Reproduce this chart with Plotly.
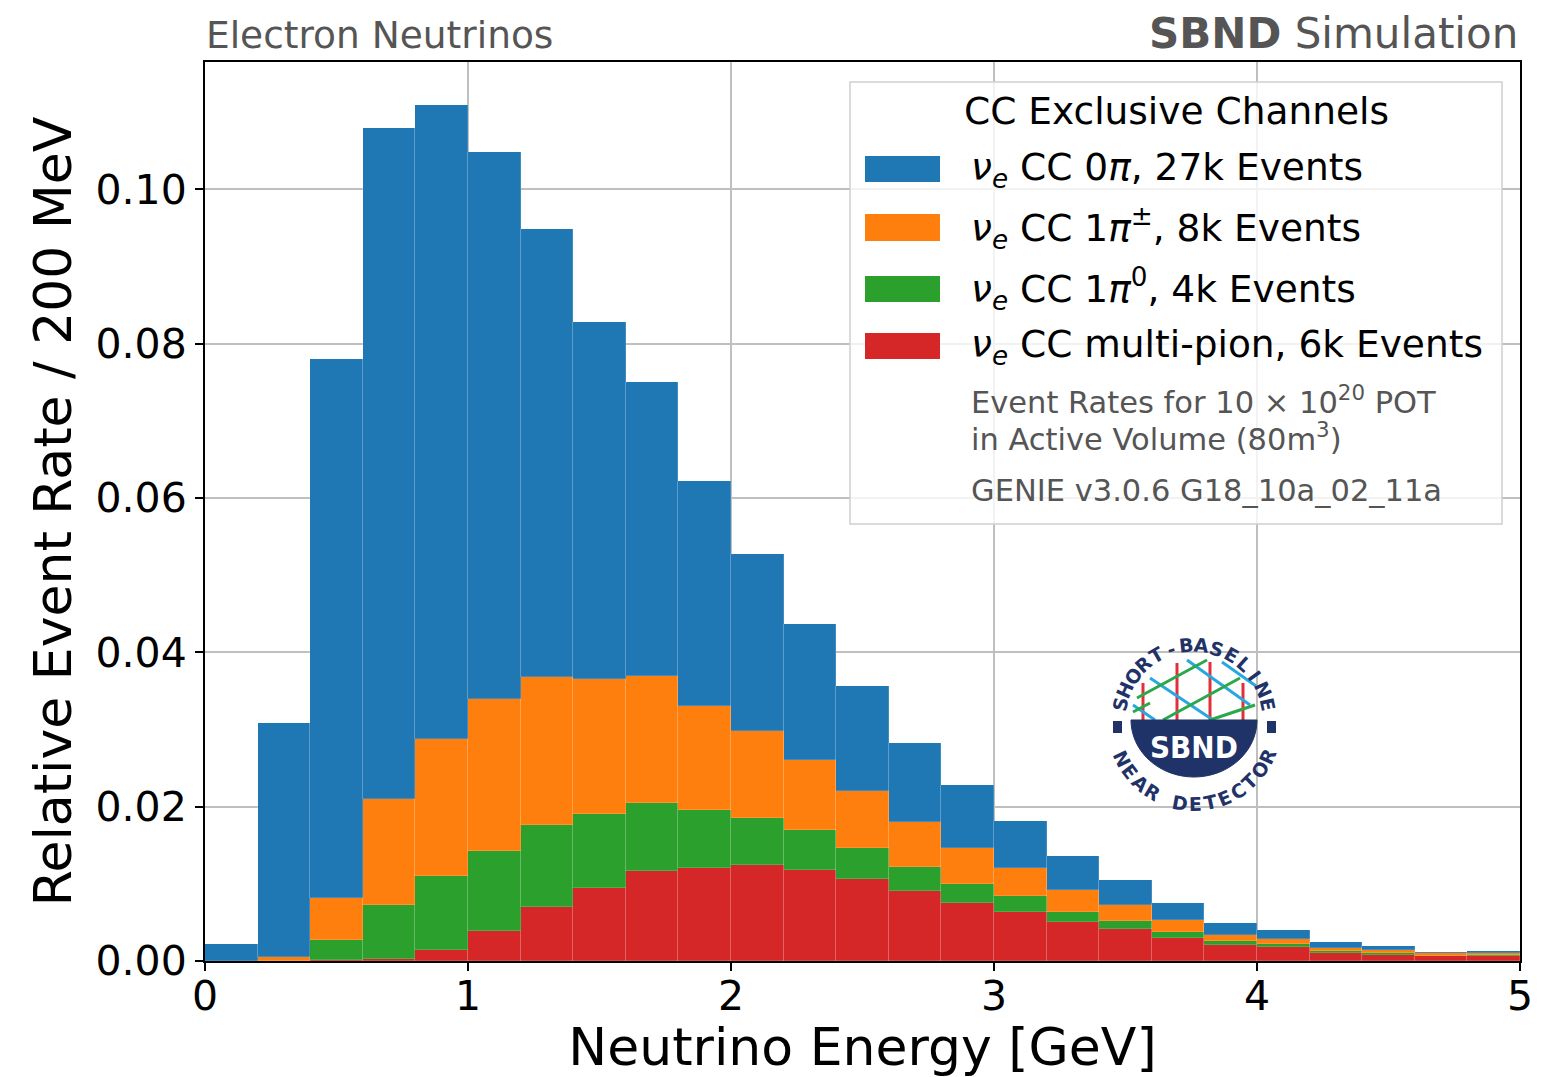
import math
import plotly.graph_objects as go

# ---------------- data ----------------
bin_edges_lo = [round(0.2 * i, 1) for i in range(25)]
bin_width = 0.2
bin_centers = [round(b + bin_width / 2, 2) for b in bin_edges_lo]

multi_pion = [0.0, 0.0, 0.0001, 0.0003, 0.0014, 0.0039, 0.0070, 0.0095, 0.0117, 0.0121,
              0.0125, 0.0118, 0.0106, 0.0091, 0.0075, 0.0064, 0.0051, 0.0041, 0.0030, 0.0021,
              0.0018, 0.0011, 0.0008, 0.0006, 0.0006]
one_pi0 = [0.0, 0.0, 0.0026, 0.0070, 0.0096, 0.0104, 0.0106, 0.0095, 0.0088, 0.0075,
           0.0060, 0.0052, 0.0040, 0.0031, 0.0025, 0.0020, 0.0013, 0.0011, 0.0008, 0.00045,
           0.0004, 0.0002, 0.0003, 0.0001, 0.0002]
one_pipm = [0.0, 0.0005, 0.0055, 0.0137, 0.0178, 0.0197, 0.0192, 0.0175, 0.0164, 0.0135,
            0.0113, 0.0091, 0.0074, 0.0058, 0.0047, 0.0037, 0.0028, 0.0021, 0.0015, 0.00085,
            0.0007, 0.0004, 0.0003, 0.0003, 0.0002]
zero_pi = [0.0022, 0.0304, 0.0698, 0.0870, 0.0821, 0.0708, 0.0580, 0.0463, 0.0381, 0.0291,
           0.0230, 0.0176, 0.0136, 0.0103, 0.0081, 0.0060, 0.0044, 0.0032, 0.0022, 0.0015,
           0.0011, 0.0007, 0.0006, 0.0002, 0.0003]

series_names = ["ν<sub>e</sub> CC multi-pion", "ν<sub>e</sub> CC 1π<sup>0</sup>",
                "ν<sub>e</sub> CC 1π<sup>±</sup>", "ν<sub>e</sub> CC 0π"]
series_values = [multi_pion, one_pi0, one_pipm, zero_pi]
series_colors = ["#d62728", "#2ca02c", "#ff7f0e", "#1f77b4"]

legend_labels = [
    "<i>ν</i><sub><i>e</i></sub> CC 0<i>π</i>, 27k Events",
    "<i>ν</i><sub><i>e</i></sub> CC 1<i>π</i><sup>±</sup>, 8k Events",
    "<i>ν</i><sub><i>e</i></sub> CC 1<i>π</i><sup>0</sup>, 4k Events",
    "<i>ν</i><sub><i>e</i></sub> CC multi-pion, 6k Events",
]
legend_colors = ["#1f77b4", "#ff7f0e", "#2ca02c", "#d62728"]

x_ticks = [0, 1, 2, 3, 4, 5]
y_ticks = [0.0, 0.02, 0.04, 0.06, 0.08, 0.10]

FONT = "DejaVu Sans"
W, H = 1564, 1077
L, R, T, B = 205, 1520, 62, 961


def px(x):
    return (x - L) / (R - L)


def py(y):
    return (B - y) / (B - T)


fig = go.Figure()
for name, vals, col in zip(series_names, series_values, series_colors):
    fig.add_trace(go.Bar(
        x=bin_centers, y=vals, width=bin_width, name=name,
        marker=dict(color=col, line=dict(color="rgba(255,255,255,0.25)", width=0.6)),
        showlegend=False,
    ))

shapes = []
annotations = []

# ---------------- custom legend ----------------
shapes.append(dict(type="rect", xref="paper", yref="paper",
                   x0=px(850), x1=px(1502), y0=py(524), y1=py(82),
                   fillcolor="rgba(255,255,255,0.8)", line=dict(color="#d0d0d0", width=1.5),
                   layer="above"))
annotations.append(dict(text="CC Exclusive Channels", xref="paper", yref="paper",
                        x=px(1176), y=py(111), xanchor="center", yanchor="middle",
                        showarrow=False, font=dict(family=FONT, size=37.5, color="black")))
patch_rows = [(156, 182), (214, 241), (276, 302), (333, 359)]
for lab, col, (y0, y1) in zip(legend_labels, legend_colors, patch_rows):
    shapes.append(dict(type="rect", xref="paper", yref="paper",
                       x0=px(865), x1=px(940), y0=py(y1), y1=py(y0),
                       fillcolor=col, line=dict(width=0), layer="above"))
    annotations.append(dict(text=lab, xref="paper", yref="paper",
                            x=px(969), y=py((y0 + y1) / 2), xanchor="left", yanchor="middle",
                            showarrow=False, font=dict(family=FONT, size=37.5, color="black")))
for txt, yc in [("Event Rates for 10 × 10<sup>20</sup> POT", 400),
                ("in Active Volume (80m<sup>3</sup>)", 437),
                ("GENIE v3.0.6 G18_10a_02_11a", 490)]:
    annotations.append(dict(text=txt, xref="paper", yref="paper",
                            x=px(969), y=py(yc), xanchor="left", yanchor="middle",
                            showarrow=False, font=dict(family=FONT, size=30.5, color="#555555")))

# ---------------- header texts ----------------
annotations.append(dict(text="Electron Neutrinos", xref="paper", yref="paper",
                        x=px(204), y=py(35), xanchor="left", yanchor="middle",
                        showarrow=False, font=dict(family=FONT, size=37.5, color="#555555")))
annotations.append(dict(text="<b>SBND</b> Simulation", xref="paper", yref="paper",
                        x=px(1520), y=py(33), xanchor="right", yanchor="middle",
                        showarrow=False, font=dict(family=FONT, size=42, color="#555555")))

# ---------------- SBND logo (drawn) ----------------
navy = "#1f3368"
cx, cy = 1194, 720
lattice_red = [(1143, 683, 1143, 720), (1177, 663, 1177, 720), (1210, 662, 1210, 720), (1243, 683, 1243, 720)]
lattice_cyan = [(1150, 678, 1213, 720), (1187, 660, 1250, 705), (1133, 705, 1155, 720), (1222, 662, 1256, 686)]
lattice_green = [(1137, 698, 1207, 660), (1163, 720, 1240, 678), (1210, 720, 1255, 705), (1133, 712, 1150, 703)]
for segs, col in [(lattice_red, "#e0303a"), (lattice_cyan, "#29a8e0"), (lattice_green, "#2aa84a")]:
    for (x0, y0, x1, y1) in segs:
        shapes.append(dict(type="line", xref="paper", yref="paper",
                           x0=px(x0), y0=py(y0), x1=px(x1), y1=py(y1),
                           line=dict(color=col, width=3), layer="above"))
rx, ry = 63, 57
pts = []
for k in range(0, 41):
    a = math.pi * k / 40
    pts.append((cx + rx * math.cos(a), cy + ry * math.sin(a)))
path = "M " + " L ".join(f"{px(x):.5f},{py(y):.5f}" for x, y in pts) + " Z"
shapes.append(dict(type="path", xref="paper", yref="paper", path=path,
                   fillcolor=navy, line=dict(color=navy, width=1), layer="above"))
for (x0, x1) in [(1113, 1122), (1267, 1276)]:
    shapes.append(dict(type="rect", xref="paper", yref="paper",
                       x0=px(x0), x1=px(x1), y0=py(733), y1=py(721),
                       fillcolor=navy, line=dict(width=0), layer="above"))
annotations.append(dict(text="<b>SBND</b>", xref="paper", yref="paper",
                        x=px(cx), y=py(747), xanchor="center", yanchor="middle",
                        showarrow=False, font=dict(family="DejaVu Sans Condensed, " + FONT, size=31, color="white")))
top_txt = "SHORT-BASELINE"
n = len(top_txt)
for i, ch in enumerate(top_txt):
    th = 168 - (168 - 12) * i / (n - 1)
    r = 75
    x = cx + r * math.cos(math.radians(th))
    y = cy - r * math.sin(math.radians(th))
    annotations.append(dict(text=f"<b>{ch}</b>", xref="paper", yref="paper", x=px(x), y=py(y),
                            xanchor="center", yanchor="middle", showarrow=False, textangle=90 - th,
                            font=dict(family=FONT, size=19, color=navy)))
bot_txt = "NEAR DETECTOR"
n = len(bot_txt)
for i, ch in enumerate(bot_txt):
    if ch == " ":
        continue
    th = 206 + (336 - 206) * i / (n - 1)
    r = 80
    x = cx + r * math.cos(math.radians(th))
    y = cy + 4 - r * math.sin(math.radians(th))
    annotations.append(dict(text=f"<b>{ch}</b>", xref="paper", yref="paper", x=px(x), y=py(y),
                            xanchor="center", yanchor="middle", showarrow=False, textangle=270 - th,
                            font=dict(family=FONT, size=19, color=navy)))

fig.update_layout(
    width=W, height=H,
    margin=dict(l=L, r=W - R, t=T, b=H - B, pad=0, autoexpand=False),
    paper_bgcolor="white", plot_bgcolor="white",
    barmode="stack", bargap=0,
    font=dict(family=FONT, color="black"),
    shapes=shapes, annotations=annotations,
    xaxis=dict(range=[0, 5], tickvals=x_ticks, ticktext=[str(v) for v in x_ticks],
               automargin=False,
               showgrid=True, gridcolor="#bfbfbf", gridwidth=2,
               showline=True, linecolor="black", linewidth=2, mirror=True,
               ticks="outside", ticklen=8, tickwidth=1.5, tickcolor="black",
               ticklabelstandoff=-10,
               tickfont=dict(family=FONT, size=41, color="black"),
               title=dict(text="Neutrino Energy [GeV]", standoff=14,
                          font=dict(family=FONT, size=52, color="black")),
               zeroline=False),
    yaxis=dict(range=[0, 0.1165], tickvals=y_ticks, ticktext=[f"{v:.2f}" for v in y_ticks],
               automargin=False,
               showgrid=True, gridcolor="#bfbfbf", gridwidth=2,
               showline=True, linecolor="black", linewidth=2, mirror=True,
               ticks="outside", ticklen=8, tickwidth=1.5, tickcolor="black",
               tickfont=dict(family=FONT, size=41, color="black"),
               title=dict(text="Relative Event Rate / 200 MeV", standoff=7,
                          font=dict(family=FONT, size=52, color="black")),
               zeroline=False),
)

fig.write_html("out.html")
